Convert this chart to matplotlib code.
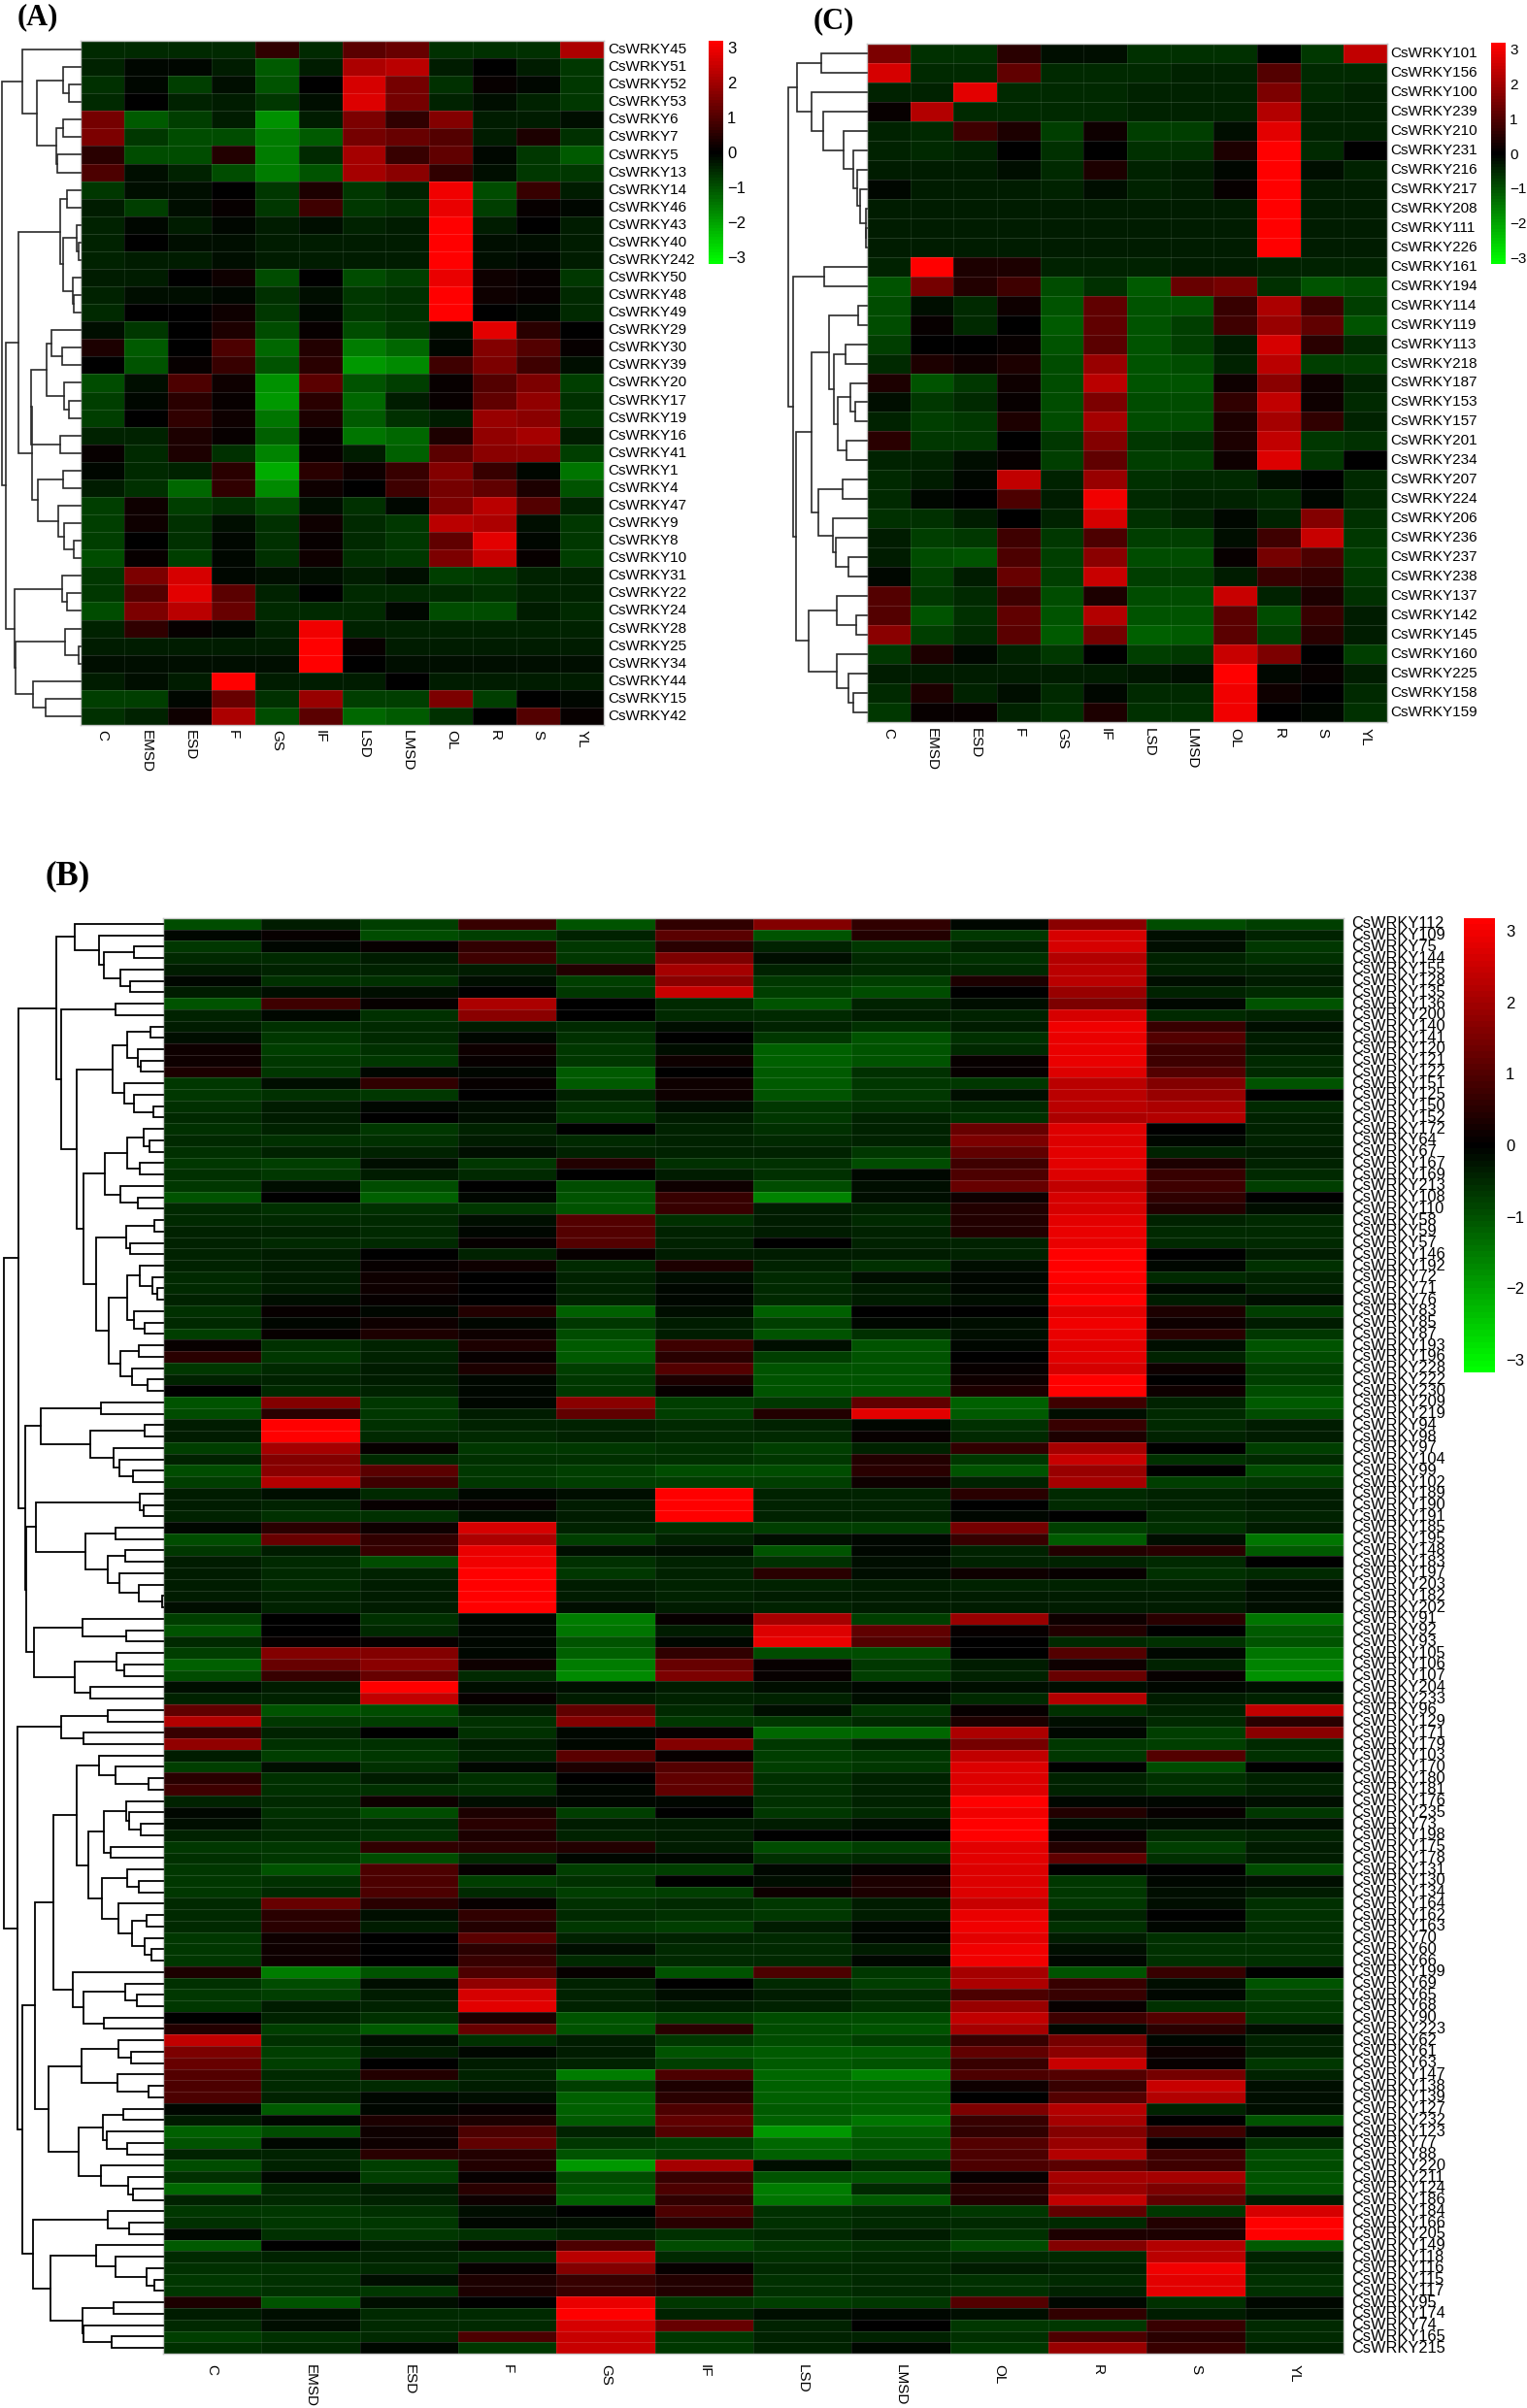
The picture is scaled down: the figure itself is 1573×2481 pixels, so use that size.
import numpy as np
import matplotlib
matplotlib.use("Agg")
import matplotlib.pyplot as plt
from matplotlib.colors import LinearSegmentedColormap

plt.rcParams["font.family"] = ["Liberation Sans", "DejaVu Sans"]

tissues = ["C", "EMSD", "ESD", "F", "GS", "IF", "LSD", "LMSD", "OL", "R", "S", "YL"]

# panel A
a_genes = [45, 51, 52, 53, 6, 7, 5, 13, 14, 46, 43, 40, 242, 50, 48, 49, 29, 30, 39, 20,
           17, 19, 16, 41, 1, 4, 47, 9, 8, 10, 31, 22, 24, 28, 25, 34, 44, 15, 42]
a_values = [
    [-.5, -.5, -.5, -.5, .6, -.5, 1.1, 1.3, -.6, -.6, -.6, 2.1],
    [-.4, -.1, -.1, -.3, -1.1, -.3, 2.1, 2.3, -.3, 0, -.3, -.7],
    [-.6, -.1, -.8, -.2, -1.0, 0, 2.6, 1.4, -.6, .1, -.1, -.7],
    [-.5, 0, -.4, -.3, -.7, -.2, 2.7, 1.4, -.4, -.2, -.4, -.7],
    [1.4, -1.1, -.8, -.3, -1.8, -.3, 1.5, .6, 1.6, -.3, -.3, -.2],
    [1.5, -.7, -.9, -.9, -1.5, -1.1, 1.4, 1.3, 1.0, -.3, .3, -.6],
    [.5, -.9, -.9, .4, -1.5, -.5, 2.0, .7, 1.2, -.1, -.7, -1.1],
    [.9, -.2, -.4, -.9, -1.5, -1.0, 2.0, 1.7, .6, -.2, -.7, -.7],
    [-.7, -.2, -.2, 0, -.7, .3, -.7, -.4, 3.0, -.9, .7, -.3],
    [-.3, -.8, -.2, .1, -.7, .8, -.7, -.6, 2.9, -.8, .1, -.1],
    [-.4, -.1, -.3, -.1, -.3, -.2, -.4, -.3, 3.2, -.3, 0, -.3],
    [-.4, 0, -.2, -.2, -.3, -.3, -.3, -.3, 3.2, -.2, -.2, -.3],
    [-.4, -.3, -.3, -.2, -.3, -.3, -.3, -.3, 3.2, -.2, -.1, -.3],
    [-.3, -.3, 0, .2, -.9, 0, -.9, -.8, 2.9, .2, .1, -.7],
    [-.4, -.2, -.2, -.1, -.6, -.2, -.7, -.6, 3.1, .2, .1, -.5],
    [-.5, 0, 0, .2, -.7, -.1, -.7, -.6, 3.1, 0, -.1, -.5],
    [-.2, -.7, 0, .3, -.9, .1, -.9, -.7, -.2, 2.8, .5, 0],
    [.3, -1.1, 0, .9, -1.3, .4, -1.5, -1.3, -.1, 1.6, 1.0, .1],
    [0, -1.0, .1, .7, -1.0, .5, -1.9, -1.7, .8, 1.5, .8, -.2],
    [-.9, -.2, .9, .2, -1.8, 1.1, -1.0, -.8, .1, 1.0, 1.5, -.8],
    [-.8, -.1, .5, .1, -1.9, .5, -1.3, -.3, .1, 1.2, 1.8, -.6],
    [-.8, 0, .6, .2, -1.4, .3, -1.1, -.6, -.3, 1.9, 1.7, -.7],
    [-.4, -.4, .3, .1, -1.2, .1, -1.4, -1.3, .3, 1.8, 2.0, -.3],
    [.1, -.5, .3, -.6, -1.6, .1, -.3, -1.2, 1.1, 1.7, 1.7, -.8],
    [-.1, -.5, -.4, .5, -2.1, .5, .2, .7, 1.6, .7, -.1, -1.4],
    [-.3, -.6, -1.3, .6, -1.7, .2, 0, .8, 1.4, 1.2, .3, -1.0],
    [-.8, .2, -.8, -.6, -.9, -.2, -.6, -.1, 1.5, 2.3, 1.0, -.4],
    [-.8, .2, -.6, -.2, -.6, .2, -.5, -.7, 2.3, 2.1, -.2, -.7],
    [-.8, 0, -.6, -.1, -.6, .1, -.5, -.7, 1.2, 2.8, -.1, -.7],
    [-.9, .1, -.8, -.1, -.6, .2, -.6, -.7, 1.5, 2.5, .1, -.8],
    [-.7, 1.5, 2.6, -.1, -.2, -.2, -.3, -.2, -.8, -.7, -.4, -.4],
    [-.7, 1.0, 2.8, 1.1, -.4, 0, -.5, -.5, -.5, -.6, -.4, -.4],
    [-.9, 1.5, 2.3, 1.3, -.5, -.5, -.5, -.1, -.9, -.9, -.3, -.5],
    [-.4, .6, .1, -.1, -.4, 3.0, -.4, -.4, -.4, -.4, -.4, -.4],
    [-.3, -.3, -.3, -.3, -.3, 3.2, .1, -.3, -.3, -.3, -.3, -.3],
    [-.2, -.2, -.2, -.2, -.2, 3.2, 0, -.2, -.2, -.2, -.2, -.2],
    [-.3, -.2, -.3, 3.2, -.3, -.3, -.3, 0, -.3, -.3, -.3, -.3],
    [-.8, -.8, -.1, 1.3, -.6, 1.9, -.8, -.8, 1.5, -.8, 0, -.1],
    [-.6, -.4, .2, 2.1, -.9, 1.1, -1.3, -1.1, -.6, 0, 1.0, .1],
]
a_tree = [81,
          [60.5, 0, [45, [18, 0, [12, 0, 0]], [24.6, [18, 0, 0], [23.6, 0, 0]]]],
          [77,
           [64,
            [21, [14, 0, 0], [18, [4, 0, [2.5, 0, 0]], [8, 0, [6.7, 0, 0]]]],
            [50,
             [51.5, [35, [30, 0, [19.5, 0, 0]], [17, 0, [12, 0, 0]]], [21, 0, 0]],
             [43.6, [18, 0, 0], [23, 0, [17, 0, [6.7, 0, 0]]]]]],
           [68,
            [19.5, 0, [14, 0, 0]],
            [67, [16, 0, [2.5, 0, 0]], [49, 0, [36, 0, 0]]]]]]

# panel C
c_genes = [101, 156, 100, 239, 210, 231, 216, 217, 208, 111, 226, 161, 194, 114, 119, 113, 218, 187,
           153, 157, 201, 234, 207, 224, 206, 236, 237, 238, 137, 142, 145, 160, 225, 158, 159]
c_values = [
    [1.5, -.6, -.6, .5, -.2, -.2, -.6, -.6, -.6, 0, -.7, 2.4],
    [2.6, -.5, -.5, 1.2, -.5, -.5, -.5, -.4, -.4, 1.0, -.5, -.5],
    [-.4, -.4, 2.8, -.5, -.5, -.5, -.4, -.4, -.4, 1.5, -.5, -.4],
    [.1, 2.2, -.5, -.5, -.5, -.5, -.4, -.4, -.4, 2.2, -.4, -.4],
    [-.4, -.5, .8, .3, -.8, .2, -.8, -.8, -.2, 2.8, -.4, -.4],
    [-.4, -.5, -.4, 0, -.6, 0, -.6, -.6, .3, 3.1, -.5, 0],
    [-.3, -.3, -.3, -.2, -.5, .3, -.4, -.3, -.1, 3.2, -.2, -.4],
    [-.1, -.3, -.3, -.3, -.4, -.2, -.4, -.3, .1, 3.2, -.3, -.3],
    [-.3, -.3, -.3, -.3, -.3, -.3, -.3, -.3, -.3, 3.2, -.3, -.3],
    [-.3, -.3, -.3, -.3, -.3, -.3, -.3, -.3, -.3, 3.2, -.3, -.3],
    [-.3, -.3, -.3, -.3, -.3, -.3, -.3, -.3, -.3, 3.2, -.3, -.3],
    [-.4, 3.2, .3, .3, -.4, -.4, -.4, -.3, -.3, -.4, -.4, -.4],
    [-1.0, 1.4, .4, .8, -.9, -.6, -1.1, 1.3, 1.4, -.6, -1.0, -.9],
    [-.9, -.2, -.5, .2, -1.0, 1.2, -1.0, -1.0, .7, 2.1, .8, -.8],
    [-.9, .1, -.5, 0, -1.1, 1.2, -1.0, -.8, .8, 1.9, 1.2, -1.0],
    [-.8, 0, 0, .1, -1.0, 1.1, -1.0, -.8, -.3, 2.6, .5, -.5],
    [-.5, .3, .2, .3, -.9, 1.9, -1.0, -.9, -.4, 2.3, -.8, -.8],
    [.3, -1.0, -.7, .2, -.9, 2.3, -1.0, -1.0, .2, 1.7, .2, -.4],
    [-.2, -.7, -.5, .1, -.9, 1.5, -.9, -.9, .6, 2.4, .2, -.5],
    [-.4, -.8, -.7, .3, -.9, 2.0, -.9, -.9, .3, 2.0, .6, -.4],
    [.5, -.7, -.7, 0, -.7, 1.6, -.7, -.6, .3, 2.4, -.7, -.6],
    [-.4, -.4, -.2, .1, -.8, 1.2, -.8, -.8, .2, 2.7, -.7, 0],
    [-.5, -.3, -.1, 2.4, -.4, 1.9, -.6, -.5, -.5, -.2, 0, -.5],
    [-.5, -.1, 0, .9, -.3, 3.0, -.5, -.4, -.4, -.5, -.1, -.5],
    [-.6, -.6, -.3, 0, -.4, 2.6, -.6, -.4, -.1, -.4, 1.6, -.6],
    [-.3, -.8, -.7, .8, -.7, .9, -.8, -.8, -.2, .8, 2.5, -.7],
    [-.3, -.9, -1.0, .9, -.8, 1.7, -.9, -.9, .1, 1.4, .9, -.8],
    [-.1, -.8, -.3, 1.3, -.8, 2.5, -.8, -.8, -.3, .7, .6, -.7],
    [1.0, -.7, -.5, .8, -.9, .3, -.9, -.9, 2.5, -.4, .3, -.6],
    [1.0, -1.0, -.6, 1.2, -1.0, 2.2, -1.0, -1.0, 1.1, -.9, .7, -.3],
    [1.7, -.8, -.5, 1.1, -1.1, 1.4, -1.2, -1.1, 1.1, -.8, .5, -.3],
    [-.7, .3, -.1, -.4, -.7, 0, -.8, -.7, 2.5, 1.5, 0, -.8],
    [-.3, -.3, -.3, -.3, -.3, -.3, -.25, -.2, 3.2, -.1, .1, -.3],
    [-.5, .3, -.4, -.2, -.5, -.1, -.5, -.5, 3.0, .2, 0, -.5],
    [-.7, .1, .1, -.4, -.6, .3, -.6, -.6, 3.0, 0, -.1, -.6],
]
c_tree = [81,
          [72, [47.5, 0, 0],
           [57.5, 0, [45, 0, [24, 0, [14, 0, [10, 0, [7.4, 0, [1.5, 0, [.8, 0, 0]]]]]]]]],
          [76, [44.5, 0, 0],
           [73,
            [57,
             [38.6, [9, 0, 0], [33.7, [22, 0, 0], [30, [17, 0, [12.4, 0, 0]], [21, 0, 0]]]],
             [50, [25, 0, 0], [35, 0, [32, 0, [19, 0, 0]]]]],
            [60, [31, 0, [11.4, 0, 0]], [31, 0, [19, 0, [14, 0, 0]]]]]]]

# panel B
b_genes = [112, 109, 75, 144, 155, 128, 135, 136, 200, 140, 141, 120, 121, 122, 151, 125, 150, 152,
           172, 64, 67, 167, 169, 213, 108, 110, 58, 59, 57, 146, 192, 72, 71, 76, 83, 85, 87, 193,
           196, 228, 222, 230, 209, 219, 94, 98, 97, 104, 99, 102, 189, 190, 191, 185, 195, 148,
           183, 197, 203, 182, 202, 91, 92, 93, 105, 106, 107, 204, 233, 96, 129, 171, 179, 103,
           170, 180, 181, 176, 235, 73, 198, 175, 178, 131, 130, 134, 164, 162, 163, 70, 60, 66,
           199, 69, 65, 68, 90, 223, 62, 61, 63, 147, 138, 139, 127, 232, 123, 77, 88, 220, 211,
           124, 186, 184, 166, 205, 149, 118, 116, 115, 117, 95, 174, 74, 165, 215]
b_c = [-.9, -.1, -.7, -.5, -.3, -.1, -.3, -1.0, -.4, -.3,
       -.2, .2, .2, .3, -.7, -.7, -.6, -.5, -.6, -.5,
       -.6, -.7, -.6, -.7, -1.0, -.5, -.5, -.4, -.4, -.4,
       -.4, -.5, -.5, -.4, -.6, -.5, -.8, .1, .5, -.7,
       -.4, 0, -1.0, -.9, -.3, -.3, -.8, -.4, -.9, -.8,
       -.3, -.3, -.4, -.1, -.9, -.7, -.3, -.3, -.3, -.3,
       -.2, -.8, -1.0, -.5, -.8, -1.2, -.9, -.2, -.4, 1.2,
       2.2, .7, 1.8, -.3, -.8, .5, .8, -.4, -.1, -.2,
       -.4, -.7, -.6, -.7, -.7, -.7, -.5, -.5, -.5, -.7,
       -.7, -.7, .3, -.6, -.7, -.7, 0, .4, 2.4, 1.5,
       1.3, 1.0, .9, .9, -.1, -.3, -1.2, -1.0, -.4, -.9,
       -.6, -1.3, -.4, -.7, -.6, -.1, -1.1, -.5, -.6, -.7,
       -.7, .3, -.3, -.5, -.8, -.6]
b_emsd = [-.3, .1, -.1, -.5, -.4, -.6, -.2, .8, -.1, -.6,
          -.7, -.8, -.7, -.7, -.2, -.6, -.3, -.3, -.4, -.6,
          -.4, -.8, -.7, -.2, 0, -.6, -.5, -.4, -.5, -.3,
          -.3, -.3, -.3, -.2, .1, -.1, .1, -.6, -.7, -.5,
          -.4, -.5, 1.6, .5, 3.2, 3.2, 2.0, 1.6, 1.7, 2.2,
          -.2, -.4, -.6, .5, 1.3, -.3, -.5, -.5, -.5, -.4,
          -.4, 0, 0, .1, 1.6, 1.3, .7, -.3, -.4, -1.0,
          -.7, -.4, -.6, -.8, -.2, -.6, -.6, -.5, -.6, -.5,
          -.5, -.7, -.7, -1.0, -.6, -.5, 1.3, .5, .5, .2,
          .2, .2, -1.5, -.9, -.8, -.3, -.4, -.8, -.6, -.8,
          -.8, -.5, -.5, -.4, -1.1, -.1, -.9, -.1, -.4, -.4,
          -.1, -.5, -.5, -.7, -.7, -.6, 0, -.4, -.6, -.6,
          -.6, -1.0, -.2, -.2, -.6, -.5]
b_esd = [-.8, -.9, .1, -.3, -.4, -.6, -.2, .1, -.6, -.5,
         -.5, -.6, -.7, -.1, .6, -.7, -.1, 0, -.7, -.6,
         -.4, -.2, -.3, -.9, -1.2, -.6, -.5, -.5, -.5, 0,
         .1, .2, .2, .1, -.1, .2, .3, -.4, -.4, -.3,
         -.3, -.4, -.7, -.7, -.6, -.5, .1, -.5, 1.1, .8,
         -.5, .1, -.6, .2, .6, .7, -.9, -.4, -.3, -.3,
         -.3, -.6, -.5, .1, 1.6, 1.7, 1.3, 3.2, 2.4, -.9,
         -.8, 0, -.6, -.7, -.6, -.3, -.6, .2, -.9, -.5,
         -.6, .6, -.9, .9, .9, .9, .5, -.2, -.3, 0,
         0, 0, -1.0, -.2, -.3, -.4, -.6, -1.1, -.2, -.3,
         0, .4, -.5, -.1, -.1, .3, .2, .2, .5, -.8,
         -.8, -.3, -.4, -.6, -.7, -.7, -.3, -.4, -.5, -.2,
         -.7, -.2, -.5, -.5, -.5, -.1]
b_f = [.7, -.8, .6, .8, -.3, -.2, 0, 2.1, 1.7, -.3,
       -.1, .2, .1, -.1, .1, 0, -.2, -.2, -.4, -.3,
       -.2, -.7, -.5, 0, -.1, -.7, -.2, -.1, .1, -.4,
       .2, 0, 0, 0, .4, -.1, .2, .3, .1, .3,
       -.1, -.1, -.1, -.3, -.4, -.5, -.7, -.6, -.7, -.7,
       -.1, .1, -.2, 2.6, 2.1, 2.9, 3.0, 3.1, 3.2, 3.2,
       3.2, -.1, -.1, -.1, -.1, .2, -.5, -.2, .1, -.3,
       -.6, -.6, -.3, -.4, -.1, -.6, -.6, -.2, .3, .5,
       .3, .5, -.5, .1, -.8, -.5, .1, .6, .4, 1.1,
       .5, .7, .9, 1.8, 2.6, 2.8, .3, 1.3, -.6, -.1,
       -.3, -.4, -.3, -.2, .1, .3, .9, 1.2, .4, .4,
       .1, .5, .2, -.2, -.1, -.6, .1, -.5, .1, .3,
       .3, 0, -.5, -.5, .9, -.7]
b_gs = [-1.0, -.4, -.7, -.7, .4, -.8, -.7, 0, 0, -.5,
        -.6, -.7, -.7, -1.1, -1.1, -.4, -.6, -.7, 0, -.5,
        -.4, .4, 0, -.9, -1.0, -1.0, 1.0, 1.0, 1.0, .1,
        -.5, -.4, -.4, -.4, -1.2, -.7, -.9, -1.1, -1.1, -.8,
        -.7, -.7, 1.7, 1.2, -.4, -.4, -.7, -.6, -.8, -.8,
        -.2, -.3, -.3, -.4, -.8, -.2, -.6, -.7, -.3, -.3,
        -.2, -1.5, -1.4, -1.0, -1.2, -1.5, -1.7, -.2, -.3, 1.2,
        1.6, -.1, -.1, 1.1, .3, 0, -.1, -.1, -.8, -.3,
        -.4, .4, -.1, -.8, -.6, -.8, -.6, -.5, -.7, -.4,
        -.2, -.5, .1, -.4, -.4, -.4, -1.0, -1.0, -.3, -.3,
        -.4, -1.5, -.8, -1.2, -1.2, -1.1, -.4, -.7, -1.0, -1.9,
        -.9, -1.0, -1.2, 0, -.2, -.4, .9, 2.3, 1.6, .7,
        .7, 2.9, 3.2, 2.6, 2.5, 2.5]
b_if = [.6, 1.1, .5, 1.5, 2.0, 1.7, 2.5, -.5, -.5, -.2,
        0, -.2, .2, 0, .2, .2, -.2, -.3, -.4, -.4,
        -.4, -.6, -.3, .2, .7, .7, -.6, -.4, -.4, -.3,
        .3, -.2, -.1, -.1, -.2, -.3, -.3, .8, .5, 1.0,
        .3, .1, -.8, -.8, -.5, -.5, -.6, -.6, -.9, -.8,
        3.2, 3.2, 3.2, -.6, -.4, -.2, -.4, -.4, -.4, -.4,
        -.3, .1, -.3, -.1, .6, 1.3, 1.5, -.3, -.4, -.5,
        -.7, .1, 1.6, .1, 1.0, 1.2, 1.2, -.1, 0, -.3,
        -.3, -.3, -.1, -.8, 0, -.8, -.5, -.6, -.8, -.4,
        -.5, -.5, -1.0, 0, -.2, -.3, -.8, .5, -.7, -1.0,
        -.8, .9, .3, .5, .9, 1.2, 1.0, -.8, -.8, 2.0,
        .7, .9, .6, .9, .5, -.6, -.9, -.5, .1, .4,
        .4, -.7, -.4, 1.3, -.7, -.7]
b_lsd = [1.6, -1.0, -.4, -.2, -.4, -.7, -.8, -1.0, -.5, -.4,
         -.7, -1.2, -1.2, -1.1, -1.1, -1.0, -.7, -.7, -.6, -.5,
         -.4, -.6, -.6, -.9, -1.6, -.3, -.3, -.3, 0, -.3,
         -.4, -.5, -.5, -.5, -1.2, -.8, -1.0, -.2, -.8, -1.0,
         -1.0, -1.0, -.7, .4, -.4, -.5, -.8, -.7, -.9, -.8,
         -.4, -.4, -.4, -.8, -.2, -1.0, -.6, .5, -.4, -.3,
         -.4, 2.0, 2.7, 2.9, -.9, .1, .1, -.2, -.4, -.2,
         -.7, -1.3, -.7, -.8, -.8, -.6, -.6, -.6, -.7, -.3,
         0, -.9, -.6, -.1, -.2, .2, -.7, -.7, -.3, -.5,
         -.5, -.5, .9, -.5, -.3, -.4, -.9, -.9, -.9, -1.1,
         -1.1, -1.3, -1.2, -1.2, -1.1, -1.2, -1.9, -1.3, -1.2, -.2,
         -1.0, -1.5, -1.4, -.6, -.6, -.5, -.7, -.6, -.5, -.6,
         -.6, -.8, -.2, -.4, -.4, -.4]
b_lmsd = [.6, .4, -.7, -.5, -.5, -.8, -.9, -.4, -.3, -.6,
          -1.0, -1.0, -1.0, -.6, -.7, -.7, -.6, -.4, -.4, -.4,
          -.7, -.9, -.1, -.2, -.2, -.4, -.5, -.4, -.4, -.3,
          -.6, -.2, -.3, -.3, 0, -.1, -.6, -1.0, -1.0, -1.0,
          -1.0, -1.0, 1.2, 2.8, -.1, .1, -.4, .4, .5, .2,
          -.4, -.4, -.4, -.8, -.1, -.1, -.2, -.2, -.3, -.3,
          -.3, -.8, 1.2, 1.0, -.9, -.7, -.8, -.1, -.2, -.7,
          -.5, -1.3, -.4, -.7, -.7, -.4, -.4, -.4, -.5, -.2,
          0, -.8, -.5, .1, .3, .3, -.3, -.3, -.1, -.1,
          -.3, -.1, -.7, -.8, -.5, -.6, -.9, -1.0, -.8, -1.1,
          -1.0, -1.6, -1.2, -1.2, -1.2, -1.4, -1.2, -1.0, -1.0, -.5,
          -1.0, -.5, -1.1, -.5, -.5, -.3, -.6, -.5, -.5, -.5,
          -.5, -.7, -.1, 0, -.4, -.1]
# OL, R, S, YL per gene
b_right = [
    [-.1, 1.7, -.9, -.8], [-.7, 2.6, -.2, -.4], [-.4, 2.6, -.2, -.7], [-.6, 2.2, -.4, -.6],
    [-.5, 2.3, -.4, -.4], [.3, 2.3, -.2, -.3], [0, 1.9, -.4, -.5], [-.2, 1.5, -.1, -1.0],
    [-.4, 2.6, -.5, -.4], [-.3, 3.0, .7, -.2], [-.6, 2.9, 1.0, -.3], [-.5, 2.9, .8, -.3],
    [.1, 2.9, .8, -.5], [.1, 2.7, 1.0, -.5], [-.7, 2.3, 1.6, -1.0], [-.2, 2.3, 1.9, 0],
    [-.5, 2.3, 2.1, -.5], [-.6, 2.1, 2.2, -.4], [1.3, 2.7, 0, -.4], [1.5, 2.7, -.1, -.4],
    [1.2, 2.8, -.4, -.3], [.8, 2.8, .3, -.4], [.9, 2.7, .7, -.5], [1.3, 2.4, .8, -.8],
    [.2, 2.6, .6, 0], [.4, 2.6, .4, -.2], [.4, 2.8, -.4, -.5], [.4, 2.9, -.5, -.5],
    [-.4, 2.9, -.5, -.5], [-.4, 3.2, 0, -.3], [-.2, 3.1, -.1, -.6], [-.1, 3.1, -.5, -.4],
    [-.1, 3.0, -.1, -.4], [-.2, 3.2, -.3, -.2], [0, 2.8, .3, -.8], [-.2, 3.0, .2, -.3],
    [-.2, 2.9, .5, -.7], [-.1, 2.8, -.2, -1.0], [0, 2.8, -.4, -.9], [.1, 2.6, .2, -.8],
    [.2, 3.1, 0, -.8], [.3, 3.1, .2, -.9], [-1.2, .8, -.4, -1.1], [-1.1, -.2, -.5, -.9],
    [-.6, .7, -.5, -.3], [-.5, .3, -.4, -.3], [.6, 2.0, 0, -.8], [-.7, 2.5, -.6, -.5],
    [-1.0, 1.9, 0, -.9], [-.4, 2.0, -.8, -.7], [.5, -.5, -.4, -.3], [0, -.5, -.4, -.3],
    [-.1, 0, -.5, -.4], [1.4, -.8, -.6, -.3], [.7, -1.1, -.2, -1.4], [-.4, .4, .5, -1.1],
    [-.4, -.4, -.5, 0], [.2, .1, -.6, -.5], [-.4, -.4, -.4, -.2], [-.3, -.3, -.3, -.2],
    [-.3, -.3, -.3, -.2], [1.9, .2, .5, -1.4], [.1, .4, 0, -1.1], [0, -.5, -.6, -1.0],
    [0, 1.0, -.1, -1.4], [-.3, .2, -.4, -1.6], [-.4, 1.3, .1, -1.8], [-.2, -.2, -.1, -.2],
    [-.5, 2.2, -.3, -.4], [.1, -.6, -.4, 2.4], [.3, -.2, -.5, .5], [2.1, -.1, -.8, 1.7],
    [1.4, -.7, -.8, -.5], [2.4, -.7, 1.0, -.6], [2.7, 0, -.9, 0], [2.7, -.4, -.6, -.4],
    [2.7, -.4, -.6, -.4], [3.2, -.1, -.1, -.2], [3.0, .4, .1, -.7], [3.1, -.2, -.2, -.2],
    [3.2, .1, -.5, -.4], [2.8, .4, -.8, -.3], [2.8, 1.2, -.6, -.3], [2.7, 0, 0, -.9],
    [2.7, -.7, -.05, -.2], [2.7, -.7, -.2, -.3], [2.5, -.7, -.2, -.6], [2.9, -.4, 0, -.6],
    [3.0, -.6, -.1, -.6], [2.8, -.3, -.6, -.6], [3.0, -.2, -.6, -.6], [3.0, -.1, -.6, -.6],
    [2.0, -1.0, .7, 0], [2.1, .7, -.2, -1.0], [.9, .7, -.1, -.8], [1.9, .1, -.6, -.7],
    [2.4, .8, 1.0, -.7], [2.0, -.1, .5, -.2], [.7, 1.4, -.1, -.4], [1.2, 1.7, .2, -.4],
    [.7, 2.5, .1, -.7], [.9, 1.0, 1.4, -.4], [.2, .7, 2.5, -.2], [0, 1.0, 2.2, -.2],
    [1.5, 2.2, -.4, -.2], [.7, 2.0, 0, -1.0], [.6, 1.6, .8, -.1], [1.0, 1.9, .1, -.6],
    [.9, 2.2, .8, -.9], [.9, 1.1, .8, -.9], [.1, 2.0, 2.0, -1.0], [.5, 1.9, 1.5, -1.0],
    [.4, 2.4, 1.2, -.3], [-.7, 1.2, -.7, 2.6], [-.5, -.5, .4, 3.2], [-.6, .3, .3, 3.1],
    [-.9, 1.6, 2.2, -1.1], [-.5, -.5, 2.3, -.4], [-.3, -.4, 3.0, -.5], [-.6, -.5, 2.8, -.6],
    [-.6, -.4, 2.8, -.6], [1.0, -.1, -.6, -.1], [-.2, .6, -.3, -.2], [-.7, -.7, .7, -.5],
    [-.6, .9, .5, -.5], [-.7, 1.9, .7, -.4],
]
b_tree = [164,
          [149,
           [110,
            [91, 0, [66, 0, [61, [30, 0, 0], [44, 0, [34, 0, 0]]]]],
            [105, [49, 0, 0],
             [89,
              [52, [37, [13, 0, 0], [26, 0, [23, 0, 0]]], [40, 0, [30, 0, [10, 0, 0]]]],
              [82,
               [60, [37, [20, 0, [14, 0, 0]], [24, 0, 0]], [44, 0, [26, 0, 0]]],
               [69, [38, [9, 0, 0], [34, 0, 0]],
                [56,
                 [37, [24, 0, [11, 0, [6, 0, 0]]], [30, 0, [19, 0, 0]]],
                 [44, [25, 0, 0], [32, 0, [16, 0, 0]]]]]]]]],
           [142,
            [126, [64, 0, 0], [75, [19, 0, 0], [51, 0, [45, 0, [31, 0, 0]]]]],
            [141,
             [131, [24, 0, [20, 0, 0]],
              [80, [49, 0, 0], [57, [39, 0, 0], [45, 0, [25, 0, [1, 0, 0]]]]]],
             [133, [83, 0, [38, 0, 0]], [91, [48, 0, [40, 0, 0]], [75, 0, 0]]]]]],
          [150,
           [105, [57, 0, 0], [82, 0, 0]],
           [145,
            [132,
             [113,
              [89,
               [66, 0, [49, 0, [15, 0, 0]]],
               [77,
                [61, [38, 0, [35, 0, [23, 0, 0]]], [54, 0, 0]],
                [63, [37, 0, [25, 0, 0]],
                 [46, 0, [32, [17, 0, 0], [19, 0, [12, 0, 0]]]]]]],
              [93, 0, [82, [39, 0, [27, 0, 0]], [61, 0, 0]]]],
             [118,
              [84, [46, 0, [33, 0, 0]], [47, 0, [15, 0, 0]]],
              [87, [62, [41, 0, 0], [58, 0, [37, 0, 0]]], [64, 0, [36, 0, [31, 0, 0]]]]]],
            [134,
             [57, 0, [35, 0, 0]],
             [116,
              [69, 0, [49, 0, [17, 0, [9, 0, 0]]]],
              [83, [51, 0, 0], [82, 0, [53, 0, 0]]]]]]]]

W, H = 1573, 2481
cmap = LinearSegmentedColormap.from_list("gbr", ["#00ff00", "#000000", "#ff0000"], N=75)
VLIM = 3.18


def px_axes(fig, x0, y0, x1, y1):
    # axes from pixel box, y measured from the top of the image
    return fig.add_axes([x0 / W, 1 - y1 / H, (x1 - x0) / W, (y1 - y0) / H])


def draw_tree(ax, node, next_row, color, lw):
    # returns y of this node; leaves (0) take consecutive rows
    if node == 0:
        y = next_row[0] + 0.5
        next_row[0] += 1
        return y, 0
    h, left, right = node
    y1, h1 = draw_tree(ax, left, next_row, color, lw)
    y2, h2 = draw_tree(ax, right, next_row, color, lw)
    ax.plot([h1, h, h, h2], [y1, y1, y2, y2], color=color, lw=lw,
            solid_joinstyle="miter", clip_on=False)
    return (y1 + y2) / 2, h


def draw_panel(fig, values, genes, tree, box, key_box, row_fs, col_fs, row_pad, col_pad, tree_color, tree_lw):
    x0, y0, x1, y1 = box
    values = np.array(values)
    n_rows = values.shape[0]

    ax = px_axes(fig, x0, y0, x1, y1)
    ax.pcolormesh(np.arange(13), np.arange(n_rows + 1), values, cmap=cmap, vmin=-VLIM, vmax=VLIM)
    ax.hlines(np.arange(1, n_rows), 0, 12, color="white", alpha=0.14, lw=0.7)
    ax.vlines(np.arange(1, 12), 0, n_rows, color="white", alpha=0.10, lw=0.6)
    ax.set_xlim(0, 12)
    ax.set_ylim(n_rows, 0)
    ax.set_xticks(np.arange(12) + 0.5)
    ax.set_xticklabels(tissues, rotation=-90, fontsize=col_fs, ha="center", va="top")
    ax.set_yticks(np.arange(n_rows) + 0.5)
    ax.set_yticklabels([f"CsWRKY{g}" for g in genes], fontsize=row_fs, va="center")
    ax.yaxis.tick_right()
    ax.tick_params(axis="x", length=0, pad=col_pad)
    ax.tick_params(axis="y", length=0, pad=row_pad)
    for s in ax.spines.values():
        s.set_color("#c8c8c8")
        s.set_linewidth(1)

    dax = px_axes(fig, 0, y0, x0, y1)
    dax.set_xlim(x0, 0)
    dax.set_ylim(n_rows, 0)
    dax.axis("off")
    draw_tree(dax, tree, [0], tree_color, tree_lw)

    k0, ky0, k1, ky1, key_fs, key_pad = key_box
    kax = px_axes(fig, k0, ky0, k1, ky1)
    levels = np.linspace(VLIM, -VLIM, 75)[:, None]
    kax.imshow(levels, cmap=cmap, vmin=-VLIM, vmax=VLIM, aspect="auto",
               extent=[0, 1, -VLIM, VLIM])
    kax.set_xticks([])
    kax.set_yticks([-3, -2, -1, 0, 1, 2, 3])
    kax.yaxis.tick_right()
    kax.tick_params(axis="y", length=0, labelsize=key_fs, pad=key_pad)
    for s in kax.spines.values():
        s.set_visible(False)


fig = plt.figure(figsize=(W / 100, H / 100), dpi=100)

draw_panel(fig, a_values, a_genes, a_tree, (83, 42, 622, 747), (730, 42, 745, 272, 12, 3),
           11, 11, 3, 3.6, "#2a2a2a", 1.2)
draw_panel(fig, c_values, c_genes, c_tree, (893, 45, 1429, 744), (1536, 44, 1551, 272, 11, 3),
           11, 11, 2.5, 4.3, "#2a2a2a", 1.2)
b_values = np.column_stack([b_c, b_emsd, b_esd, b_f, b_gs, b_if, b_lsd, b_lmsd, np.array(b_right)])
draw_panel(fig, b_values, b_genes, b_tree, (168, 946, 1384, 2425), (1508, 946, 1540, 1414, 12, 8),
           11.8, 11, 6, 8, "#000000", 1.3)

for label, px, py, size in [("(A)", 18, 18, 22), ("(C)", 838, 22, 22), ("(B)", 46, 903, 25)]:
    fig.text(px / W, 1 - py / H, label, family=["Liberation Serif", "DejaVu Serif"],
             fontweight="bold", fontsize=size, va="center", ha="left")

fig.savefig("out.png", dpi=100, facecolor="white")
